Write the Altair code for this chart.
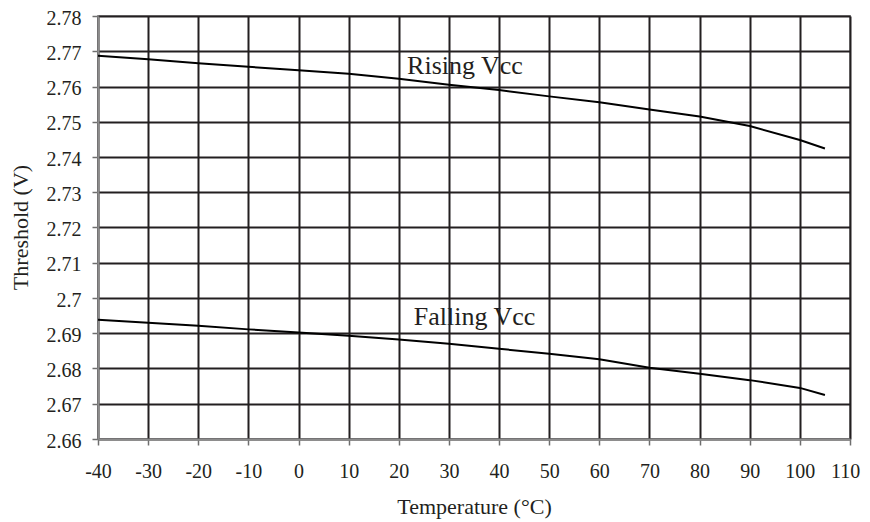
import altair as alt
import pandas as pd

temps = [-40, -30, -20, -10, 0, 10, 20, 30, 40, 50, 60, 70, 80, 90, 100, 105]
rising = [2.7687, 2.7677, 2.7666, 2.7656, 2.7646, 2.7636, 2.7622, 2.7605,
          2.7590, 2.7572, 2.7555, 2.7535, 2.7515, 2.7488, 2.7448, 2.7424]
falling = [2.6938, 2.6930, 2.6921, 2.6911, 2.6902, 2.6893, 2.6882, 2.6870,
           2.6856, 2.6842, 2.6826, 2.6802, 2.6785, 2.6767, 2.6745, 2.6725]

x_ticks = [-40, -30, -20, -10, 0, 10, 20, 30, 40, 50, 60, 70, 80, 90, 100, 110]
y_ticks = [2.66, 2.67, 2.68, 2.69, 2.70, 2.71, 2.72, 2.73, 2.74, 2.75, 2.76, 2.77, 2.78]

label_text = ["Rising Vcc", "Falling Vcc"]
label_x = [33.2, 35.1]
label_y = [2.7635, 2.6923]

rows = []
for t, v in zip(temps, rising):
    rows.append({"T": t, "V": v, "series": "Rising"})
for t, v in zip(temps, falling):
    rows.append({"T": t, "V": v, "series": "Falling"})
df = pd.DataFrame(rows)
lab = pd.DataFrame({"text": label_text, "T": label_x, "V": label_y})

FONT = "Liberation Serif"
INK = "#231f20"

xenc = alt.X("T:Q",
             scale=alt.Scale(domain=[-40, 110], nice=False, zero=False),
             axis=alt.Axis(values=x_ticks, title="Temperature (°C)",
                           labelExpr="'' + datum.value", labelFlush=False,
                           labelOffset={"condition": {"test": "datum.value == 110", "value": -5},
                                        "value": 0},
                           labelPadding=16, titleY=74,
                           titleBaseline="alphabetic"))
yenc = alt.Y("V:Q",
             scale=alt.Scale(domain=[2.66, 2.78], nice=False, zero=False),
             axis=alt.Axis(values=y_ticks, title="Threshold (V)", format="~g",
                           labelPadding=11, labelOffset=2,
                           titleX=-78, titleY=211,
                           titleAngle=-90, titleBaseline="middle",
                           titleAlign="center", labelOverlap=False,
                           labelFlush=False))

lines = alt.Chart(df).mark_line(color="black", strokeWidth=2).encode(
    x=xenc, y=yenc, detail="series:N")

texts = alt.Chart(lab).mark_text(font=FONT, fontSize=26, color=INK,
                                 baseline="alphabetic", align="center").encode(
    x=xenc, y=yenc, text="text:N")

chart = (lines + texts).properties(
    width=752, height=423,
    autosize=alt.AutoSizeParams(type="none"),
    padding={"left": 90, "top": 8, "right": 12, "bottom": 82},
).configure_view(
    stroke="#999999", strokeWidth=2
).configure_axis(
    grid=True, gridColor=INK, gridWidth=2, gridOpacity=1,
    domainColor="#8c8c8c", domainWidth=2,
    tickColor="#6e6e6e", tickSize=6, tickWidth=1.5,
    labelFont=FONT, labelFontSize=20, labelColor=INK,
    titleFont=FONT, titleFontSize=22, titleFontWeight="normal", titleColor=INK,
)

chart.save("out.html", embed_options={"renderer": "svg", "actions": False})
